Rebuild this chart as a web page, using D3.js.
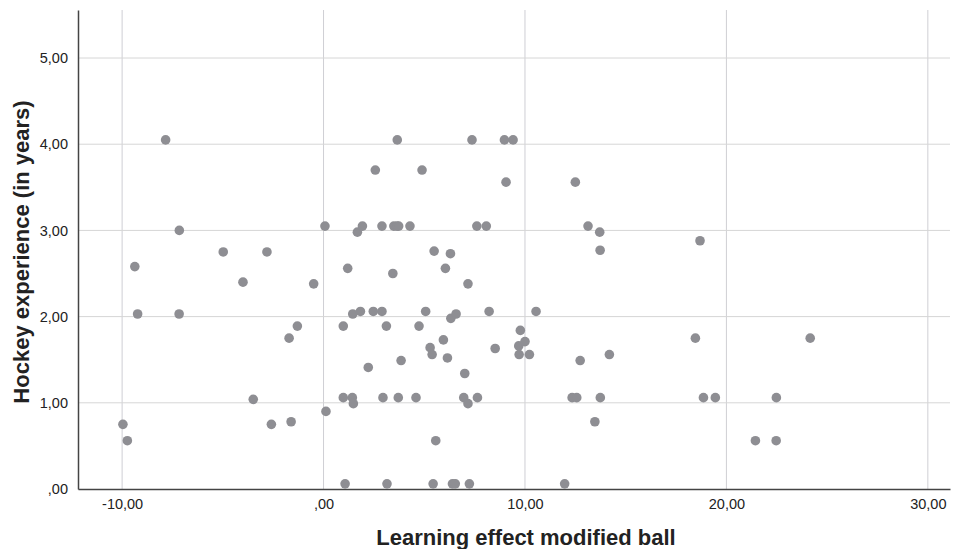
<!DOCTYPE html>
<html>
<head>
<meta charset="utf-8">
<script src="https://cdnjs.cloudflare.com/ajax/libs/d3/7.8.5/d3.min.js"></script>
<style>
	body { margin: 0; background: #fff; }
	svg { display: block; font-family: "Liberation Sans", Arial, sans-serif; }
</style>
</head>
<body>
<div id="svg-container"></div>
<script>

// DATA
const learningEffect = [
	-9.96, -9.74, -9.37, -9.23, -7.84, -7.16, -7.17, -4.98, -4.00, -3.49,
	-2.81, -2.59, -1.71, -1.61, -1.30, -0.49, 0.07, 0.12, 0.98, 0.98,
	1.07, 1.20, 1.43, 1.48, 1.45, 1.68, 1.83, 1.93, 2.22, 2.47,
	2.57, 2.90, 2.90, 2.95, 3.12, 3.15, 3.44, 3.49, 3.65, 3.73,
	3.66, 3.71, 3.85, 4.29, 4.59, 4.74, 4.89, 5.07, 5.29, 5.39,
	5.44, 5.49, 5.57, 5.95, 6.05, 6.15, 6.30, 6.32, 6.40, 6.54,
	6.58, 6.96, 7.01, 7.17, 7.17, 7.24, 7.37, 7.61, 7.64, 8.08,
	8.22, 8.52, 8.98, 9.06, 9.41, 9.69, 9.71, 9.77, 10.00, 10.22,
	10.55, 11.97, 12.34, 12.50, 12.57, 12.74, 13.13, 13.47, 13.71, 13.74,
	13.73, 14.19, 18.46, 18.69, 18.86, 19.45, 21.44, 22.47, 22.48, 24.16
];
const hockeyYears = [
	0.75, 0.56, 2.58, 2.03, 4.05, 3.00, 2.03, 2.75, 2.40, 1.04,
	2.75, 0.75, 1.75, 0.78, 1.89, 2.38, 3.05, 0.90, 1.89, 1.06,
	0.06, 2.56, 1.06, 0.99, 2.03, 2.98, 2.06, 3.05, 1.41, 2.06,
	3.70, 2.06, 3.05, 1.06, 1.89, 0.06, 2.50, 3.05, 3.05, 3.05,
	4.05, 1.06, 1.49, 3.05, 1.06, 1.89, 3.70, 2.06, 1.64, 1.56,
	0.06, 2.76, 0.56, 1.73, 2.56, 1.52, 2.73, 1.98, 0.06, 0.06,
	2.03, 1.06, 1.34, 0.99, 2.38, 0.06, 4.05, 3.05, 1.06, 3.05,
	2.06, 1.63, 4.05, 3.56, 4.05, 1.66, 1.56, 1.84, 1.71, 1.56,
	2.06, 0.06, 1.06, 3.56, 1.06, 1.49, 3.05, 0.78, 2.98, 1.06,
	2.77, 1.56, 1.75, 2.88, 1.06, 1.06, 0.56, 0.56, 1.06, 1.75
];
const xTicks = [-10, 0, 10, 20, 30];
const xTickLabels = ["-10,00", ",00", "10,00", "20,00", "30,00"];
const yTicks = [0, 1, 2, 3, 4, 5];
const yTickLabels = [",00", "1,00", "2,00", "3,00", "4,00", "5,00"];
const xTitle = "Learning effect modified ball";
const yTitle = "Hockey experience (in years)";


// SCATTER PLOT
function graphData() {
	// graph dimension
	const w = 960;
	const h = 549;
	const padTop = 10;
	const padBottom = 60;
	const padLeft = 78;
	const padRight = 10;


	// scales
	const xScale = d3.scaleLinear()
		.domain([-12.19, 31.1])
		.range([padLeft, w - padRight]);
	const yScale = d3.scaleLinear()
		.domain([0, 5.557])
		.range([h - padBottom, padTop]);


	// svg
	const svg = d3.select("#svg-container")
		.append("svg")
		.attr("width", w)
		.attr("height", h);


	// grid lines
	svg.append("g")
		.selectAll("line")
		.data(xTicks)
		.join("line")
		.attr("x1", d => xScale(d))
		.attr("x2", d => xScale(d))
		.attr("y1", padTop)
		.attr("y2", h - padBottom)
		.attr("stroke", "#cfcfd4")
		.attr("stroke-width", 1);
	svg.append("g")
		.selectAll("line")
		.data(yTicks.slice(1))
		.join("line")
		.attr("x1", padLeft)
		.attr("x2", w - padRight)
		.attr("y1", d => yScale(d))
		.attr("y2", d => yScale(d))
		.attr("stroke", "#d6d6d6")
		.attr("stroke-width", 1);


	// x-axis
	const xAxis = d3.axisBottom(xScale)
		.tickValues(xTicks)
		.tickSize(0)
		.tickPadding(10)
		.tickFormat((d, i) => xTickLabels[i]);
	const gx = svg.append("g")
		.attr("transform", `translate(0, ${h - padBottom})`)
		.call(xAxis);
	gx.select(".domain").attr("stroke", "#444").attr("stroke-width", 1.5);
	gx.selectAll("text").attr("font-size", 14.5).attr("fill", "#222").attr("font-family", "Liberation Sans, Arial, sans-serif");

	// y-axis
	const yAxis = d3.axisLeft(yScale)
		.tickValues(yTicks)
		.tickSize(0)
		.tickPadding(10)
		.tickFormat((d, i) => yTickLabels[i]);
	const gy = svg.append("g")
		.attr("transform", `translate(${padLeft}, 0)`)
		.call(yAxis);
	gy.select(".domain").attr("stroke", "#444").attr("stroke-width", 1.5);
	gy.selectAll("text").attr("font-size", 14.5).attr("fill", "#222").attr("font-family", "Liberation Sans, Arial, sans-serif");


	// labels
	svg.append("text")
		.text(xTitle)
		.attr("x", 526)
		.attr("y", 545)
		.attr("text-anchor", "middle")
		.attr("font-size", 22)
		.attr("font-weight", "bold")
		.attr("fill", "#222");
	svg.append("text")
		.text(yTitle)
		.attr("transform", "translate(29, 252) rotate(-90)")
		.attr("text-anchor", "middle")
		.attr("font-size", 22)
		.attr("font-weight", "bold")
		.attr("fill", "#222");


	// plots
	svg.append("g")
		.selectAll("circle")
		.data(d3.zip(learningEffect, hockeyYears))
		.join("circle")
		.attr("r", 4.8)
		.attr("cx", d => xScale(d[0]))
		.attr("cy", d => yScale(d[1]))
		.style("fill", "#8e8e93");
}


document.addEventListener('DOMContentLoaded', () => {
	graphData();
});
</script>
</body>
</html>
